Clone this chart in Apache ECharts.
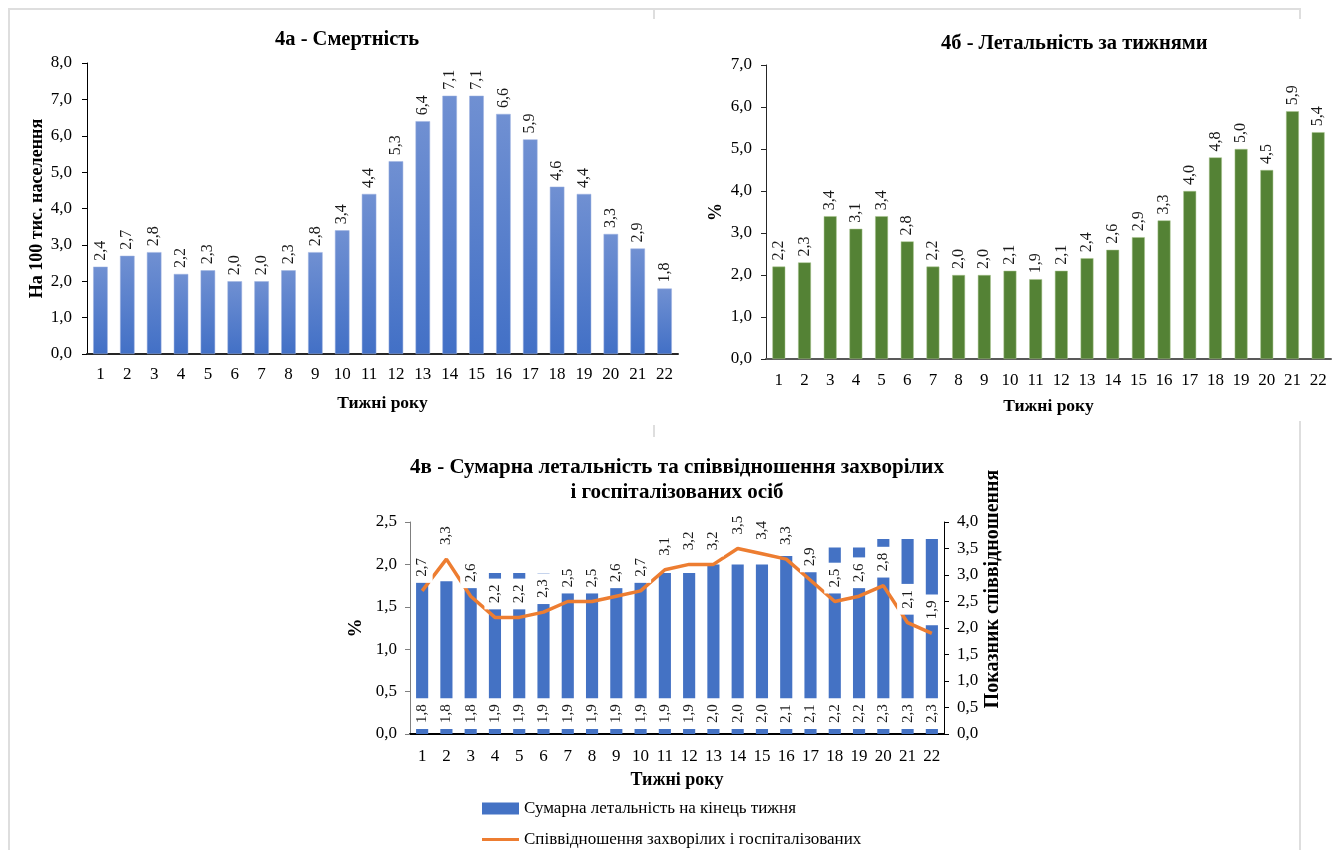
<!DOCTYPE html>
<html>
<head>
<meta charset="utf-8">
<script src="https://cdn.jsdelivr.net/npm/echarts@6/dist/echarts.min.js"></script>
<style>
  html, body { margin: 0; padding: 0; background: #fff; }
  #chart { width: 1333px; height: 850px; }
</style>
</head>
<body>
<div id="chart"></div>
<script>
// Weeks of the year (categories shared by all three panels)
const weeks = ['1','2','3','4','5','6','7','8','9','10','11','12','13','14','15','16','17','18','19','20','21','22'];
// 4а: deaths per 100 thousand population
const mortality = [2.4, 2.7, 2.8, 2.2, 2.3, 2.0, 2.0, 2.3, 2.8, 3.4, 4.4, 5.3, 6.4, 7.1, 7.1, 6.6, 5.9, 4.6, 4.4, 3.3, 2.9, 1.8];
// 4б: weekly case fatality, %
const weeklyFatality = [2.2, 2.3, 3.4, 3.1, 3.4, 2.8, 2.2, 2.0, 2.0, 2.1, 1.9, 2.1, 2.4, 2.6, 2.9, 3.3, 4.0, 4.8, 5.0, 4.5, 5.9, 5.4];
// 4в: cumulative fatality at week end, %
const cumulativeFatality = [1.8, 1.8, 1.8, 1.9, 1.9, 1.9, 1.9, 1.9, 1.9, 1.9, 1.9, 1.9, 2.0, 2.0, 2.0, 2.1, 2.1, 2.2, 2.2, 2.3, 2.3, 2.3];
// 4в: ratio of cases to hospitalised
const caseHospRatio = [2.7, 3.3, 2.6, 2.2, 2.2, 2.3, 2.5, 2.5, 2.6, 2.7, 3.1, 3.2, 3.2, 3.5, 3.4, 3.3, 2.9, 2.5, 2.6, 2.8, 2.1, 1.9];

const FONT = 'Liberation Serif';
const fmt = v => Number(v).toFixed(1).replace('.', ',');
const NAME_BAR = 'Сумарна летальність на кінець тижня';
const NAME_LINE = 'Співвідношення захворілих і госпіталізованих';

const chart = echarts.init(document.getElementById('chart'));

function catAxis(gridIndex, lineColor, margin, nameGap, nameSize) {
  return {
    type: 'category', gridIndex, data: weeks,
    axisLine: { show: true, lineStyle: { color: lineColor, width: 2 } },
    axisTick: { show: false },
    axisLabel: { color: '#000', fontSize: 17, fontFamily: FONT, margin, interval: 0 },
    name: 'Тижні року', nameLocation: 'middle', nameGap,
    nameTextStyle: { color: '#000', fontSize: nameSize, fontWeight: 'bold', fontFamily: FONT }
  };
}

function valAxis(gridIndex, max, interval, name, nameGap, lineColor, position, margin, nameStyle) {
  return {
    type: 'value', gridIndex, min: 0, max, interval, position,
    axisLine: { show: true, lineStyle: { color: lineColor, width: 1 } },
    axisTick: { show: true, inside: false, length: 5, lineStyle: { color: lineColor } },
    splitLine: { show: false },
    axisLabel: { color: '#000', fontSize: 17, fontFamily: FONT, margin, formatter: fmt },
    name, nameLocation: 'middle', nameGap,
    nameTextStyle: Object.assign({ color: '#000', fontSize: 18, fontWeight: 'bold', fontFamily: FONT }, nameStyle || {})
  };
}

const rotatedTop = (size, dist) => ({
  show: true, position: 'top', rotate: 90, align: 'left', verticalAlign: 'middle',
  distance: dist, color: '#1a1a1a', fontSize: size, fontFamily: FONT,
  formatter: p => fmt(p.value)
});

const frameColor = '#dedede';
const frameLine = (x1, y1, x2, y2) => ({
  type: 'line', silent: true,
  shape: { x1, y1, x2, y2 },
  style: { stroke: frameColor, lineWidth: 2 }
});

const titleStyle = { fontSize: 20.5, fontWeight: 'bold', fontFamily: FONT, color: '#000' };

chart.setOption({
  animation: false,
  backgroundColor: '#fff',
  textStyle: { fontFamily: FONT },
  title: [
    { text: '4а - Смертність', left: 275, top: 29, padding: 0, textStyle: titleStyle },
    { text: '4б - Летальність за тижнями', left: 941, top: 33, padding: 0, textStyle: titleStyle },
    { text: '4в - Сумарна летальність та співвідношення захворілих\nі госпіталізованих осіб',
      left: 677, top: 455, padding: 0, textAlign: 'center',
      textStyle: Object.assign({ lineHeight: 25 }, titleStyle, { fontSize: 21 }) }
  ],
  legend: [
    { data: [NAME_BAR], left: 482, top: 800, padding: 0, orient: 'vertical', icon: 'rect',
      itemWidth: 37, itemHeight: 12, itemGap: 4, selectedMode: false,
      textStyle: { fontSize: 17, fontFamily: FONT, color: '#000' } },
    { data: [NAME_LINE], left: 482, top: 831, padding: 0, orient: 'vertical', icon: 'rect',
      itemWidth: 37, itemHeight: 3, itemGap: 4, selectedMode: false,
      textStyle: { fontSize: 17, fontFamily: FONT, color: '#000' } }
  ],
  grid: [
    { left: 87, right: 1333 - 678, top: 63, bottom: 850 - 354 },
    { left: 766, right: 1333 - 1331, top: 65, bottom: 850 - 359 },
    { left: 410, right: 1333 - 944, top: 522, bottom: 850 - 734 }
  ],
  xAxis: [
    catAxis(0, '#262626', 12, 40, 17.5),
    catAxis(1, '#595959', 13, 38, 17.5),
    catAxis(2, '#000', 14, 37, 18)
  ],
  yAxis: [
    valAxis(0, 8, 1, 'На 100 тис. населення', 41, '#000', 'left', 15),
    valAxis(1, 7, 1, '%', 41, '#262626', 'left', 14),
    valAxis(2, 2.5, 0.5, '%', 44, '#7f7f7f', 'left', 13, { fontSize: 19 }),
    valAxis(2, 4, 0.5, 'Показник співвідношення', 39, '#000', 'right', 13,
      { fontSize: 20, padding: [0, 0, 0, 78] })
  ],
  series: [
    {
      type: 'bar', xAxisIndex: 0, yAxisIndex: 0, data: mortality, barWidth: '54%',
      itemStyle: {
        color: new echarts.graphic.LinearGradient(0, 0, 0, 1, [
          { offset: 0, color: '#7090d2' },
          { offset: 1, color: '#4270c6' }
        ]),
        borderColor: '#9fb3e0', borderWidth: 0.5
      },
      label: rotatedTop(16, 6)
    },
    {
      type: 'bar', xAxisIndex: 1, yAxisIndex: 1, data: weeklyFatality, barWidth: '50%',
      itemStyle: { color: '#548235', borderColor: '#a9c48f', borderWidth: 0.5 },
      label: rotatedTop(16, 6)
    },
    {
      type: 'bar', name: NAME_BAR, xAxisIndex: 2, yAxisIndex: 2, data: cumulativeFatality, barWidth: '50%',
      itemStyle: { color: '#4472c4' },
      label: {
        show: true, position: 'insideBottom', rotate: 90, align: 'left', verticalAlign: 'middle',
        distance: 5, color: '#1a1a1a', fontSize: 15, fontFamily: FONT,
        backgroundColor: '#fff', padding: [3, 6, 3, 6],
        formatter: p => fmt(p.value)
      },
      z: 2
    },
    {
      type: 'line', name: NAME_LINE, xAxisIndex: 2, yAxisIndex: 3, data: caseHospRatio,
      showSymbol: true, symbol: 'circle', symbolSize: 0.1,
      lineStyle: { color: '#ed7d31', width: 3.5 },
      itemStyle: { color: '#ed7d31' },
      label: {
        show: true, position: 'top', rotate: 90, align: 'left', verticalAlign: 'middle',
        distance: 8, color: '#1a1a1a', fontSize: 15, fontFamily: FONT,
        backgroundColor: '#fff', padding: [3, 6, 3, 6],
        formatter: p => fmt(p.value)
      },
      z: 3
    }
  ],
  graphic: [
    frameLine(8, 9, 1300, 9),
    frameLine(9, 8, 9, 850),
    frameLine(654, 8, 654, 19),
    frameLine(1300, 8, 1300, 19),
    frameLine(654, 425, 654, 437),
    frameLine(1300, 421, 1300, 850)
  ]
});
</script>
</body>
</html>
